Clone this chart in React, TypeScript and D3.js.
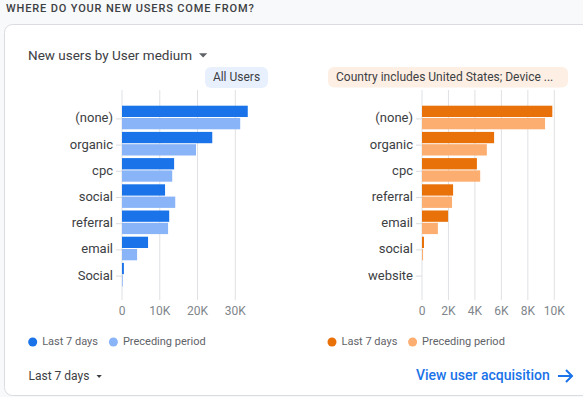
import React from "react"
import { scaleBand, scaleLinear } from "d3"

// left panel: All Users
const leftCategories = ["(none)", "organic", "cpc", "social", "referral", "email", "Social"]
const leftCurrent = [33300, 23900, 13800, 11400, 12500, 6900, 500]
const leftPrevious = [31300, 19600, 13300, 14100, 12200, 4000, 200]
const leftTicks = [0, 10000, 20000, 30000]

// right panel: Country includes United States; Device ...
const rightCategories = ["(none)", "organic", "cpc", "referral", "email", "social", "website"]
const rightCurrent = [9850, 5450, 4150, 2350, 1970, 150, 0]
const rightPrevious = [9300, 4900, 4400, 2270, 1200, 80, 0]
const rightTicks = [0, 2000, 4000, 6000, 8000, 10000]

const legendLabels = ["Last 7 days", "Preceding period"]

const FONT = "Roboto, 'Noto Sans', sans-serif"
const fmt = (v: number) => (v === 0 ? "0" : `${v / 1000}K`)

type PanelProps = {
  categories: string[]
  current: number[]
  previous: number[]
  ticks: number[]
  x0: number
  x1: number
  colors: [string, string]
}

function Panel({ categories, current, previous, ticks, x0, x1, colors }: PanelProps) {
  const x = scaleLinear().domain([0, ticks[ticks.length - 1]]).range([x0, x1])
  const y = scaleBand<string>().domain(categories).range([105, 288.4])
  const sub = scaleBand<string>().domain(["cur", "prev"]).range([0.7, 24.3]).paddingInner(0.08)
  const mid = y.step() / 2 + 0.8

  return (
    <g>
      {ticks.map(t => (
        <g key={t}>
          <line x1={x(t)} x2={x(t)} y1={90} y2={300} stroke="#dfe1e4" strokeWidth={1} />
          <text x={x(t)} y={312} textAnchor="middle" dominantBaseline="middle"
            fontSize={12} fill="#80868b" fontFamily={FONT}>{fmt(t)}</text>
        </g>
      ))}
      {categories.map((c, i) => (
        <g key={c}>
          <line x1={x0 - 6} x2={x0} y1={(y(c) ?? 0) + mid} y2={(y(c) ?? 0) + mid} stroke="#dadce0" />
          <text x={x0 - 9} y={(y(c) ?? 0) + mid} textAnchor="end" dominantBaseline="middle"
            fontSize={13} fill="#3c4043" fontFamily={FONT}>{c}</text>
          {current[i] > 0 && (
            <rect x={x0} y={(y(c) ?? 0) + (sub("cur") ?? 0)} width={x(current[i]) - x0}
              height={sub.bandwidth()} fill={colors[0]} />
          )}
          {previous[i] > 0 && (
            <rect x={x0} y={(y(c) ?? 0) + (sub("prev") ?? 0)} width={x(previous[i]) - x0}
              height={sub.bandwidth()} fill={colors[1]} />
          )}
        </g>
      ))}
    </g>
  )
}

function Legend({ x, colors, gap }: { x: number; colors: [string, string]; gap: number }) {
  return (
    <g fontFamily={FONT} fontSize={11} fill="#5f6368">
      <circle cx={x} cy={342} r={4.5} fill={colors[0]} />
      <text x={x + 9.5} y={342} dominantBaseline="middle">{legendLabels[0]}</text>
      <circle cx={x + gap} cy={342} r={4.5} fill={colors[1]} />
      <text x={x + gap + 9.5} y={342} dominantBaseline="middle">{legendLabels[1]}</text>
    </g>
  )
}

export default function App() {
  const blue: [string, string] = ["#1a73e8", "#8ab4f8"]
  const orange: [string, string] = ["#e8710a", "#fcad70"]

  return (
    <svg width={583} height={397} style={{ position: "absolute", left: 0, top: 0 }}>
      <rect x={0} y={0} width={583} height={397} fill="#f8f9fa" />
      <text x={6} y={9.5} dominantBaseline="middle" fontFamily={FONT} fontSize={11}
        fontWeight={500} letterSpacing={0.85} fill="#3c4043">WHERE DO YOUR NEW USERS COME FROM?</text>
      <rect x={4.5} y={24.5} width={600} height={371} rx={8} fill="#fff" stroke="#dadce0" />

      <text x={28} y={56} dominantBaseline="middle" fontFamily={FONT} fontSize={13.5} fill="#3c4043">
        New users by User medium
      </text>
      <path d="M199,53.3 L207.3,53.3 L203.15,57.5 Z" fill="#5f6368" />

      <rect x={205} y={67} width={63} height={21} rx={6} fill="#e8f0fe" />
      <text x={236.5} y={78} textAnchor="middle" dominantBaseline="middle" fontFamily={FONT}
        fontSize={12} fill="#3c4043">All Users</text>

      <rect x={328} y={67} width={240} height={20.5} rx={6} fill="#fdefe4" />
      <text x={336} y={77.5} dominantBaseline="middle" fontFamily={FONT}
        fontSize={12} fill="#3c4043">Country includes United States; Device ...</text>

      <Panel categories={leftCategories} current={leftCurrent} previous={leftPrevious}
        ticks={leftTicks} x0={122} x1={235.3} colors={blue} />
      <Panel categories={rightCategories} current={rightCurrent} previous={rightPrevious}
        ticks={rightTicks} x0={422} x1={554.3} colors={orange} />

      <Legend x={32.7} colors={blue} gap={80.7} />
      <Legend x={332} colors={orange} gap={80.6} />

      <text x={28.5} y={376.5} dominantBaseline="middle" fontFamily={FONT} fontSize={12} fill="#3c4043">
        Last 7 days
      </text>
      <path d="M96.5,375 L101.8,375 L99.15,378 Z" fill="#3c4043" />

      <text x={416} y={376} dominantBaseline="middle" fontFamily={FONT} fontSize={14}
        fontWeight={500} fill="#1a73e8">View user acquisition</text>
      <path d="M558,376 L572,376 M566,370 L572,376 L566,382" stroke="#1a73e8" strokeWidth={2}
        fill="none" />
    </svg>
  )
}
